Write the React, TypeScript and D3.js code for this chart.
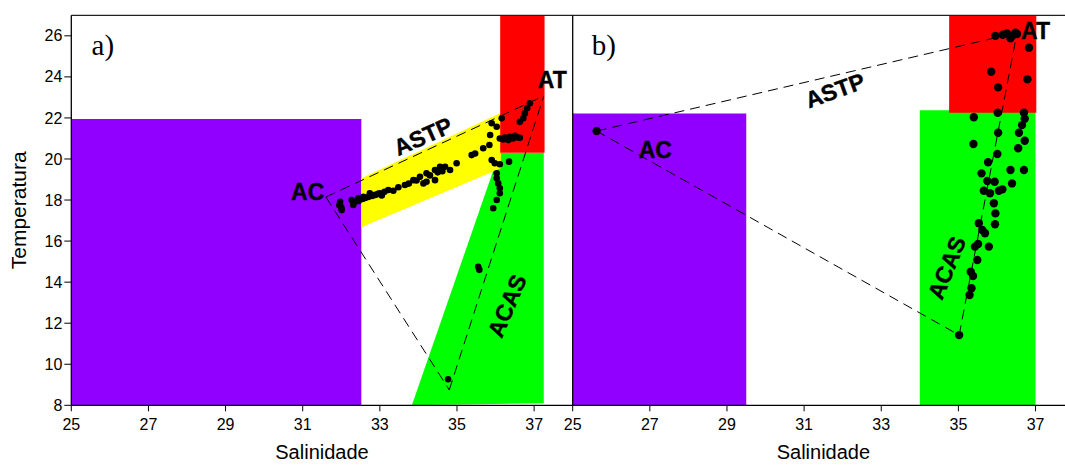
import React from "react";
import * as d3 from "d3";

const salinityTicks = [25, 27, 29, 31, 33, 35, 37];
const temperatureTicks = [8, 10, 12, 14, 16, 18, 20, 22, 24, 26];

// water-mass boxes, [salinity, temperature] — panel a
const acZoneA = [[25, 8], [32.52, 8], [32.52, 21.95], [25, 21.95]];
const acasZoneA = [[33.83, 8], [36.1, 20.3], [37.25, 20.3], [37.25, 8.1]];
const astpZoneA = [[32.52, 19.06], [36.14, 22.25], [36.14, 19.55], [32.52, 16.67]];
const atZoneA = [[36.12, 20.3], [37.27, 20.3], [37.27, 27], [36.12, 27]];

// panel b
const acZoneB = [[25, 8], [29.5, 8], [29.5, 22.22], [25, 22.22]];
const acasZoneB = [[34.0, 8], [37.0, 8], [37.0, 22.38], [34.0, 22.38]];
const atZoneB = [[34.76, 22.25], [37.02, 22.25], [37.02, 27], [34.76, 27]];

// mixing triangle vertices (AC, AT, ACAS)
const mixingA = [[31.6, 18.15], [37.25, 23.07], [34.8, 8.75]];
const mixingB = [[25.62, 21.36], [36.52, 26.15], [35.02, 11.42]];

// observed stations [salinity, temperature]
const stationsA = [
  [31.97, 17.92], [32.01, 17.51], [31.95, 17.75], [32.0, 17.65], [32.27, 18.0], [32.31, 17.76],
  [32.35, 17.9], [32.44, 18.08], [32.45, 17.95], [32.55, 18.05], [32.57, 18.16], [32.62, 18.1],
  [32.7, 18.15], [32.74, 18.33], [32.8, 18.2], [32.88, 18.25], [32.95, 18.3], [33.0, 18.33],
  [33.05, 18.22], [33.12, 18.4], [33.22, 18.49], [33.35, 18.45], [33.48, 18.62], [33.65, 18.73],
  [33.75, 18.8], [33.87, 18.97], [33.95, 18.95], [34.04, 19.13], [34.13, 18.81], [34.21, 18.89],
  [34.21, 19.3], [34.3, 19.2], [34.43, 18.97], [34.43, 19.46], [34.5, 19.35], [34.56, 19.62],
  [34.62, 19.4], [34.69, 19.62], [34.82, 19.46], [34.99, 19.79], [35.38, 20.19], [35.47, 20.27],
  [35.68, 20.52], [35.84, 20.68], [35.86, 21.17], [35.9, 21.74], [36.03, 21.57], [36.16, 21.98],
  [36.11, 21.0], [36.2, 20.95], [36.24, 21.05], [36.33, 20.92], [36.37, 21.08], [36.45, 21.0],
  [36.5, 21.13], [36.58, 21.05], [36.63, 21.03], [36.63, 21.81], [36.72, 21.98], [36.76, 22.22],
  [36.82, 22.47], [36.89, 22.71], [35.9, 19.95], [35.98, 19.79], [36.11, 19.74], [36.35, 19.87],
  [36.03, 19.3], [36.03, 19.06], [36.07, 18.81], [36.11, 18.57], [36.11, 18.33], [36.03, 18.0],
  [35.94, 17.6], [35.55, 14.75], [35.58, 14.6], [34.77, 9.27],
];

const stationsB = [
  [25.62, 21.36], [35.96, 26.0], [36.15, 26.05], [36.26, 26.12], [36.35, 25.88], [36.4, 26.0],
  [36.48, 26.15], [36.52, 26.09], [36.83, 25.42], [35.85, 24.25], [36.79, 23.88], [36.03, 23.49],
  [36.02, 22.25], [36.7, 22.25], [36.72, 21.96], [35.4, 22.03], [36.65, 21.65], [36.57, 21.28],
  [36.72, 20.89], [36.03, 21.28], [35.39, 20.73], [36.55, 20.52], [36.01, 20.24], [35.77, 19.84],
  [36.35, 19.46], [36.7, 19.46], [35.6, 19.3], [35.75, 18.93], [35.94, 18.89], [36.39, 18.81],
  [35.66, 18.45], [35.82, 18.33], [36.05, 18.45], [36.14, 18.52], [35.92, 17.84], [35.96, 17.35],
  [35.95, 16.82], [35.53, 16.87], [35.62, 16.54], [35.69, 16.38], [35.79, 15.73], [35.51, 15.86],
  [35.43, 15.73], [35.49, 15.08], [35.32, 14.51], [35.38, 14.3], [35.34, 13.7], [35.29, 13.37],
  [35.02, 11.42],
];

const W = 1065;
const H = 465;
const panelWidth = 501.4;
const top = 15.3;
const bottom = 405.3;
const sans = "Liberation Sans, Arial, sans-serif";
const serif = "Liberation Serif, Times New Roman, serif";

const y = d3.scaleLinear().domain([8, 27]).range([bottom, top]);

type Label = { text: string; s: number; t: number; angle: number };

function Panel({ x0, id, zones, mixing, stations, r, tag, labels, showY }: any) {
  const x = d3.scaleLinear().domain([25, 38]).range([x0, x0 + panelWidth]);
  const poly = d3.line<number[]>().x(d => x(d[0])).y(d => y(d[1]));
  const [ac, at, acas] = mixing;
  const segs = [[ac, at], [ac, acas], [acas, at]];
  return (
    <g>
      <defs>
        <clipPath id={id}>
          <rect x={x0} y={top} width={panelWidth} height={bottom - top} />
        </clipPath>
      </defs>
      <g clipPath={`url(#${id})`}>
        {zones.map((z: any, i: number) => (
          <path key={i} d={poly(z.pts) + "Z"} fill={z.fill} />
        ))}
        {segs.map((sg, i) => (
          <path key={i} d={poly(sg) || ""} fill="none" stroke="#000" strokeWidth={1} strokeDasharray="10,6" />
        ))}
        {stations.map((p: number[], i: number) => (
          <circle key={i} cx={x(p[0])} cy={y(p[1])} r={r} fill="#000" />
        ))}
      </g>
      {/* frame */}
      <line x1={x0} x2={x0 + panelWidth} y1={top} y2={top} stroke="#222" strokeWidth={1.2} />
      <line x1={x0} x2={x0} y1={top} y2={bottom} stroke="#000" strokeWidth={1.3} />
      <line x1={x0} x2={x0 + panelWidth} y1={bottom} y2={bottom} stroke="#000" strokeWidth={1.3} />
      {salinityTicks.map(s => (
        <g key={s} transform={`translate(${x(s)},${bottom})`}>
          <line y2={6} stroke="#000" />
          <text y={25} textAnchor="middle" fontFamily={sans} fontSize={16}>{s}</text>
        </g>
      ))}
      {showY &&
        temperatureTicks.map(t => (
          <g key={t} transform={`translate(${x0},${y(t)})`}>
            <line x2={-7} stroke="#000" />
            <text x={-9} dy="0.35em" textAnchor="end" fontFamily={sans} fontSize={16}>{t}</text>
          </g>
        ))}
      <text x={x0 + panelWidth / 2} y={459} textAnchor="middle" fontFamily={sans} fontSize={20}>Salinidade</text>
      <text x={tag[0]} y={tag[1]} fontFamily={serif} fontSize={29}>{tag[2]}</text>
      {labels.map((l: Label, i: number) => (
        <text
          key={i}
          transform={`translate(${x(l.s)},${y(l.t)}) rotate(${l.angle})`}
          textAnchor="middle"
          dy="0.35em"
          fontFamily={sans}
          fontWeight="bold"
          fontSize={23}
          stroke="#000"
          strokeWidth={0.4}
        >
          {l.text}
        </text>
      ))}
    </g>
  );
}

export default function App() {
  const zonesA = [
    { pts: acZoneA, fill: "#9100ff" },
    { pts: acasZoneA, fill: "#00ff00" },
    { pts: astpZoneA, fill: "#ffff00" },
    { pts: atZoneA, fill: "#ff0000" },
  ];
  const zonesB = [
    { pts: acZoneB, fill: "#9100ff" },
    { pts: acasZoneB, fill: "#00ff00" },
    { pts: atZoneB, fill: "#ff0000" },
  ];
  const labelsA: Label[] = [
    { text: "AC", s: 31.13, t: 18.4, angle: 0 },
    { text: "AT", s: 37.47, t: 23.85, angle: 0 },
    { text: "ASTP", s: 34.12, t: 21.1, angle: -24 },
    { text: "ACAS", s: 36.3, t: 12.85, angle: -67 },
  ];
  const labelsB: Label[] = [
    { text: "AC", s: 27.14, t: 20.45, angle: 0 },
    { text: "AT", s: 37.0, t: 26.25, angle: 0 },
    { text: "ASTP", s: 31.8, t: 23.34, angle: -20 },
    { text: "ACAS", s: 34.7, t: 14.7, angle: -68 },
  ];
  return (
    <svg width={W} height={H} style={{ position: "absolute", left: 0, top: 0, background: "#fff" }}>
      <Panel x0={71.3} id="clipA" zones={zonesA} mixing={mixingA} stations={stationsA} r={3.3}
        tag={[91.6, 55, "a)"]} labels={labelsA} showY />
      <Panel x0={572.7} id="clipB" zones={zonesB} mixing={mixingB} stations={stationsB} r={4.2}
        tag={[591.7, 55, "b)"]} labels={labelsB} showY={false} />
      <text transform={`translate(26,${y(17.5)}) rotate(-90)`} textAnchor="middle" fontFamily={sans} fontSize={21}>
        Temperatura
      </text>
    </svg>
  );
}
